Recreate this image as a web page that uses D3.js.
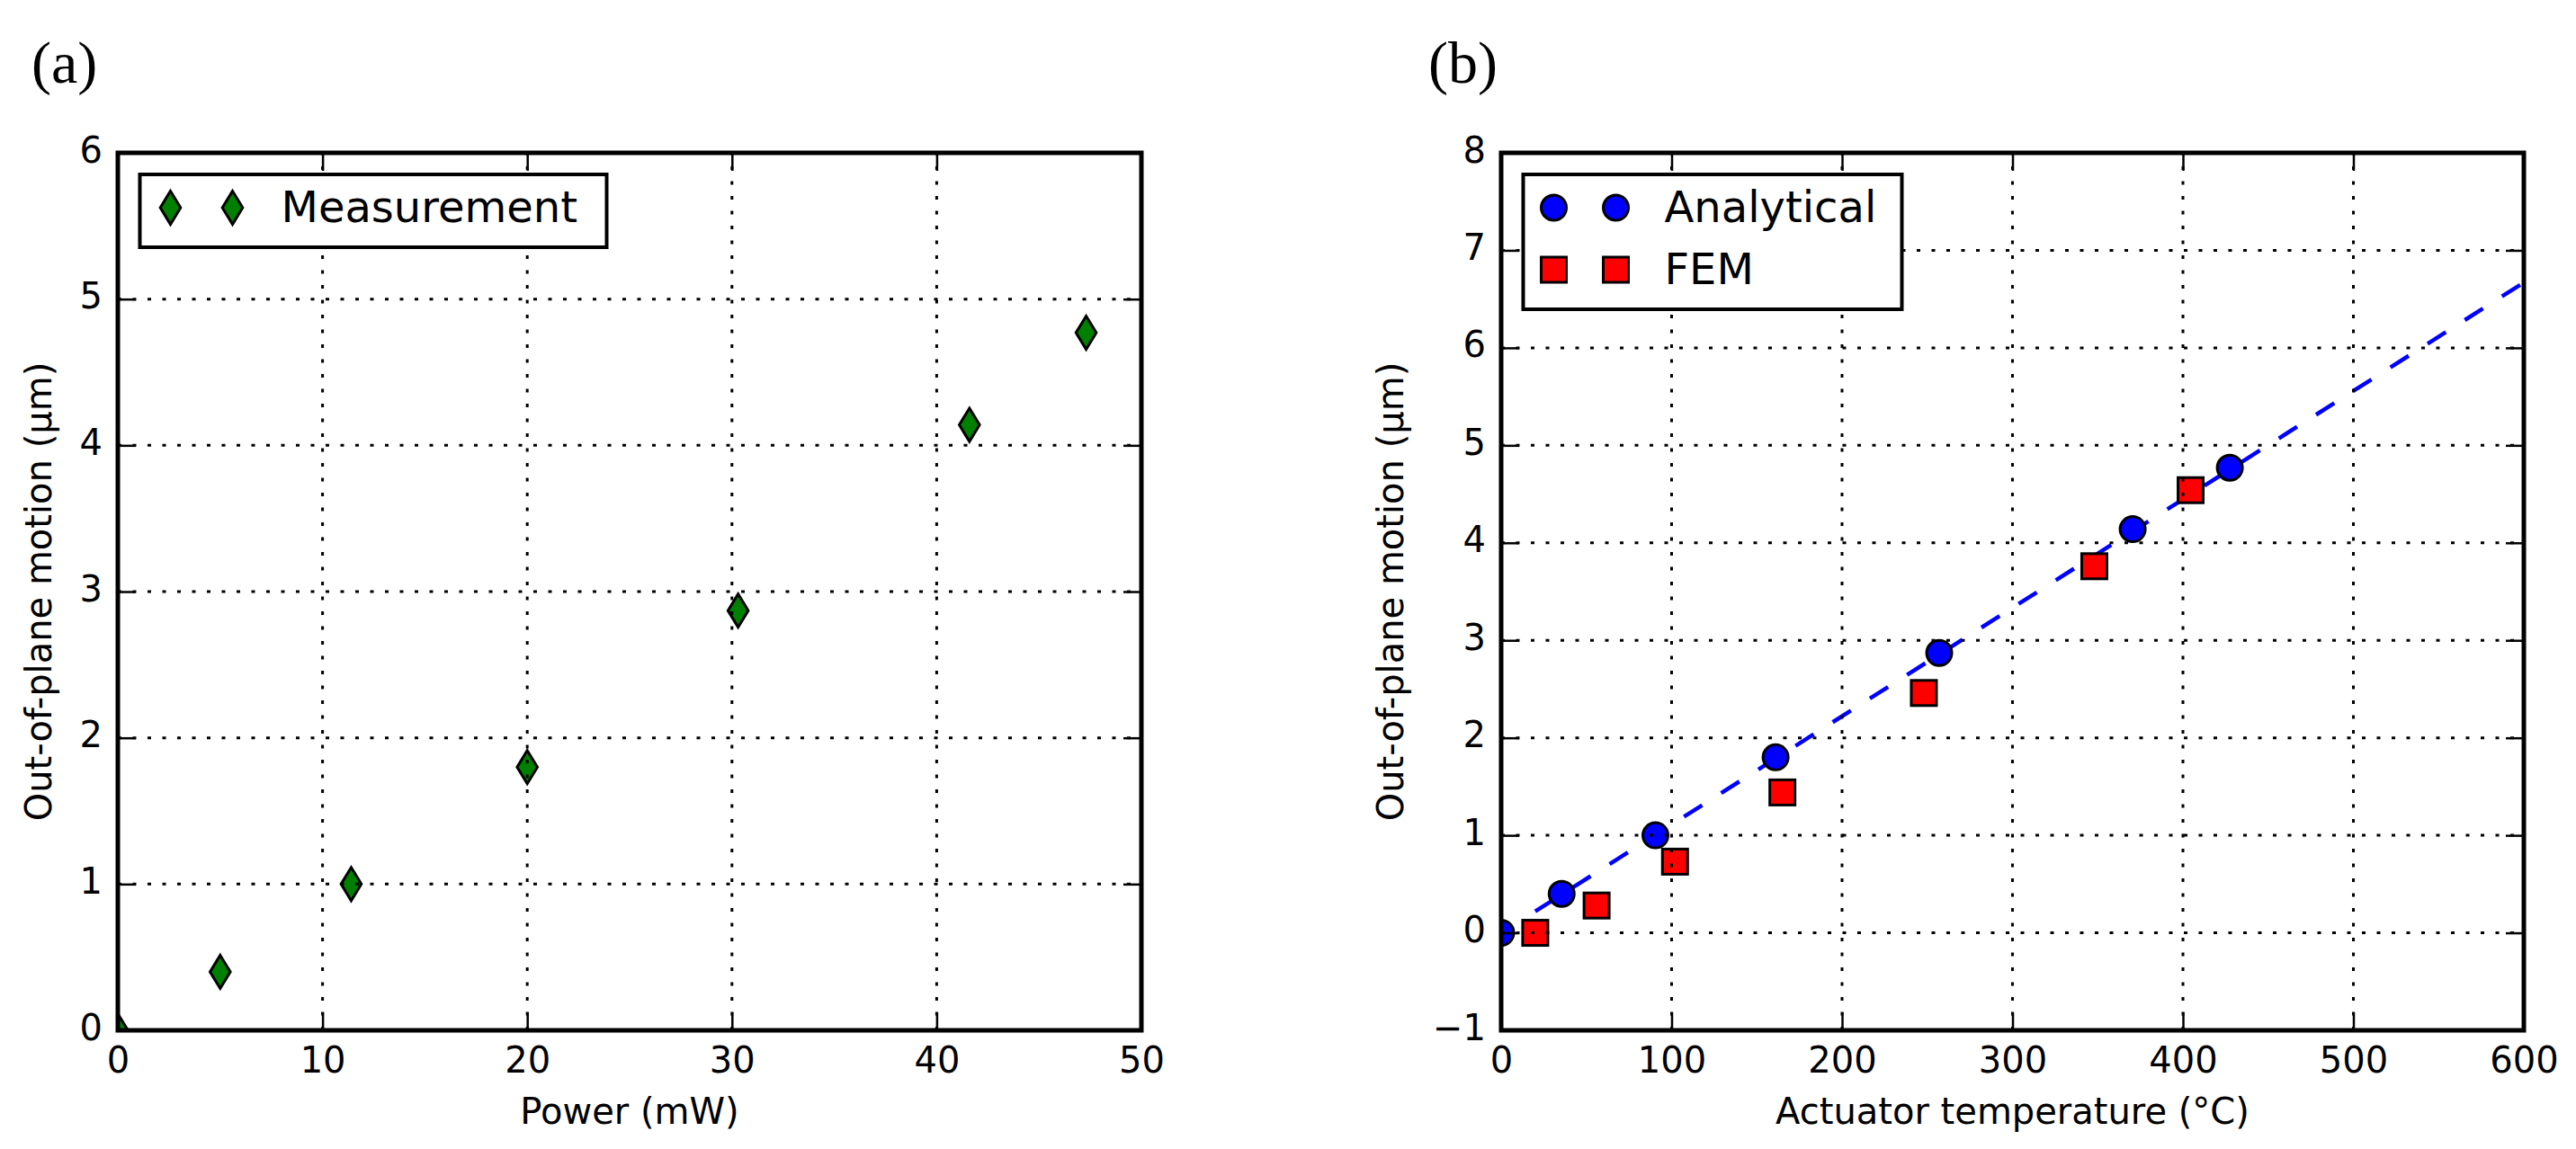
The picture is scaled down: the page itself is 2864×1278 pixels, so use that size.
<!DOCTYPE html>
<html>
<head>
<meta charset="utf-8">
<script src="https://cdn.jsdelivr.net/npm/d3@7"></script>
<style>
  body { margin: 0; background: #fff; }
  svg text { font-family: 'DejaVu Sans', sans-serif; fill: #000; }
</style>
</head>
<body>
<div id="chart"></div>
<script>
// panel (a): measurement
var powerMw = [0, 5, 11.4, 20, 30.3, 41.6, 47.3];
var measuredUm = [0, 0.4, 1.0, 1.8, 2.87, 4.14, 4.77];

// panel (b): analytical vs FEM
var analyticalT = [0, 35.5, 90.5, 161, 257, 370.5, 427.5];
var analyticalUm = [0, 0.4, 1.0, 1.8, 2.87, 4.14, 4.77];
var femT = [20, 56, 102, 165, 248, 348, 404.5];
var femUm = [0, 0.28, 0.73, 1.44, 2.46, 3.76, 4.54];
var fitT = [20, 600];
var fitUm = [0.22, 6.67];

// ticks
var powerTicks = [0, 10, 20, 30, 40, 50];
var tempTicks = [0, 100, 200, 300, 400, 500, 600];
var motionTicksA = [0, 1, 2, 3, 4, 5, 6];
var motionTicksB = [-1, 0, 1, 2, 3, 4, 5, 6, 7, 8];

var W = 2864, H = 1278;
var top0 = 170, plotH = 976;
var fmt = d3.format('d');

var svg = d3.select('#chart').append('svg')
    .attr('width', W)
    .attr('height', H)
    .style('background', '#fff');

function addMarkers(g, pts, shape, fill) {
    var sel = g.selectAll(null).data(pts).enter();
    if (shape === 'circle') {
        sel.append('circle')
            .attr('cx', function(d) { return d[0]; })
            .attr('cy', function(d) { return d[1]; })
            .attr('r', 14)
            .attr('fill', fill)
            .attr('stroke', '#000')
            .attr('stroke-width', 3);
    } else if (shape === 'square') {
        sel.append('rect')
            .attr('x', function(d) { return d[0] - 14; })
            .attr('y', function(d) { return d[1] - 14; })
            .attr('width', 28)
            .attr('height', 28)
            .attr('fill', fill)
            .attr('stroke', '#000')
            .attr('stroke-width', 3);
    } else {
        sel.append('path')
            .attr('transform', function(d) { return 'translate(' + d[0] + ',' + d[1] + ')'; })
            .attr('d', 'M0,-18.5L11.3,0L0,18.5L-11.3,0Z')
            .attr('fill', fill)
            .attr('stroke', '#000')
            .attr('stroke-width', 3)
            .attr('stroke-linejoin', 'miter');
    }
}

function drawPanel(p) {
    var w = p.right - p.left;
    var x = d3.scaleLinear().domain(p.xDomain).range([0, w]);
    var y = d3.scaleLinear().domain(p.yDomain).range([plotH, 0]);

    var g = svg.append('g').attr('transform', 'translate(' + p.left + ',' + top0 + ')');

    g.append('clipPath').attr('id', 'clip-' + p.id)
        .append('rect').attr('width', w).attr('height', plotH);

    var plot = g.append('g').attr('clip-path', 'url(#clip-' + p.id + ')');

    // fitted dashed line
    if (p.line) {
        var lineData = p.line.xs.map(function(v, i) { return [v, p.line.ys[i]]; });
        plot.append('path')
            .datum(lineData)
            .attr('d', d3.line().x(function(d) { return x(d[0]); }).y(function(d) { return y(d[1]); }))
            .attr('fill', 'none')
            .attr('stroke', '#0000ff')
            .attr('stroke-width', 4.5)
            .attr('stroke-dasharray', '24,25');
    }

    p.series.forEach(function(s) {
        var pts = s.xs.map(function(v, i) { return [x(v), y(s.ys[i])]; });
        addMarkers(plot, pts, s.shape, s.fill);
    });

    // dotted grid, drawn above the markers
    var grid = g.append('g')
        .attr('stroke', '#000')
        .attr('stroke-width', 3)
        .attr('stroke-dasharray', '4,12.5');
    grid.selectAll('.gx').data(p.xTicks).enter().append('line')
        .attr('x1', function(d) { return x(d); })
        .attr('x2', function(d) { return x(d); })
        .attr('y1', plotH).attr('y2', 0);
    grid.selectAll('.gy').data(p.yTicks).enter().append('line')
        .attr('y1', function(d) { return y(d); })
        .attr('y2', function(d) { return y(d); })
        .attr('x1', 0).attr('x2', w);

    // axes with inward ticks on all four sides
    var bottom = g.append('g').attr('transform', 'translate(0,' + plotH + ')')
        .call(d3.axisBottom(x).tickValues(p.xTicks).tickFormat(fmt).tickSize(-20).tickPadding(18.6));
    var left = g.append('g')
        .call(d3.axisLeft(y).tickValues(p.yTicks).tickFormat(fmt).tickSize(-20).tickPadding(17));
    var topAx = g.append('g')
        .call(d3.axisTop(x).tickValues(p.xTicks).tickSize(-20).tickFormat(''));
    var rightAx = g.append('g').attr('transform', 'translate(' + w + ',0)')
        .call(d3.axisRight(y).tickValues(p.yTicks).tickSize(-20).tickFormat(''));

    [bottom, left, topAx, rightAx].forEach(function(a) {
        a.select('.domain').remove();
        a.selectAll('.tick line').attr('stroke', '#000').attr('stroke-width', 2.5);
        a.attr('font-family', null).attr('font-size', null);
        a.selectAll('text').attr('font-size', 40).attr('fill', '#000');
    });
    left.selectAll('text').attr('dy', '0.25em');

    // frame
    g.append('rect')
        .attr('width', w).attr('height', plotH)
        .attr('fill', 'none')
        .attr('stroke', '#000')
        .attr('stroke-width', 5);

    // legend
    var lg = g.append('g').attr('transform', 'translate(24.5,24)');
    var rowH = 69;
    lg.append('rect')
        .attr('width', p.legendW)
        .attr('height', 81 + rowH * (p.series.length - 1))
        .attr('fill', '#fff')
        .attr('stroke', '#000')
        .attr('stroke-width', 4);
    p.series.forEach(function(s, i) {
        var cy = 37 + i * rowH;
        addMarkers(lg, [[34, cy], [103, cy]], s.shape, s.fill);
        lg.append('text')
            .attr('x', 157)
            .attr('y', cy + 16)
            .attr('font-size', 48)
            .text(s.name);
    });

    // axis titles
    g.append('text')
        .attr('x', w / 2)
        .attr('y', 1250 - top0)
        .attr('text-anchor', 'middle')
        .attr('font-size', 40)
        .text(p.xTitle);
    g.append('text')
        .attr('transform', 'translate(' + p.yTitleX + ',' + plotH / 2 + ') rotate(-90)')
        .attr('text-anchor', 'middle')
        .attr('font-size', 40)
        .text('Out-of-plane motion (µm)');

    // panel letter
    svg.append('text')
        .attr('x', p.letterX)
        .attr('y', 92)
        .style('font-family', "'Liberation Serif', 'Times New Roman', serif")
        .attr('font-size', 66)
        .text(p.letter);
}

drawPanel({
    id: 'a', left: 131, right: 1269,
    xDomain: [0, 50], yDomain: [0, 6],
    xTicks: powerTicks, yTicks: motionTicksA,
    xTitle: 'Power (mW)', yTitleX: -74,
    letter: '(a)', letterX: 35,
    legendW: 519,
    series: [
        { name: 'Measurement', xs: powerMw, ys: measuredUm, shape: 'diamond', fill: '#008000' }
    ]
});

drawPanel({
    id: 'b', left: 1669, right: 2806,
    xDomain: [0, 600], yDomain: [-1, 8],
    xTicks: tempTicks, yTicks: motionTicksB,
    xTitle: 'Actuator temperature (°C)', yTitleX: -109,
    letter: '(b)', letterX: 1588,
    legendW: 421,
    line: { xs: fitT, ys: fitUm },
    series: [
        { name: 'Analytical', xs: analyticalT, ys: analyticalUm, shape: 'circle', fill: '#0000ff' },
        { name: 'FEM', xs: femT, ys: femUm, shape: 'square', fill: '#ff0000' }
    ]
});
</script>
</body>
</html>
